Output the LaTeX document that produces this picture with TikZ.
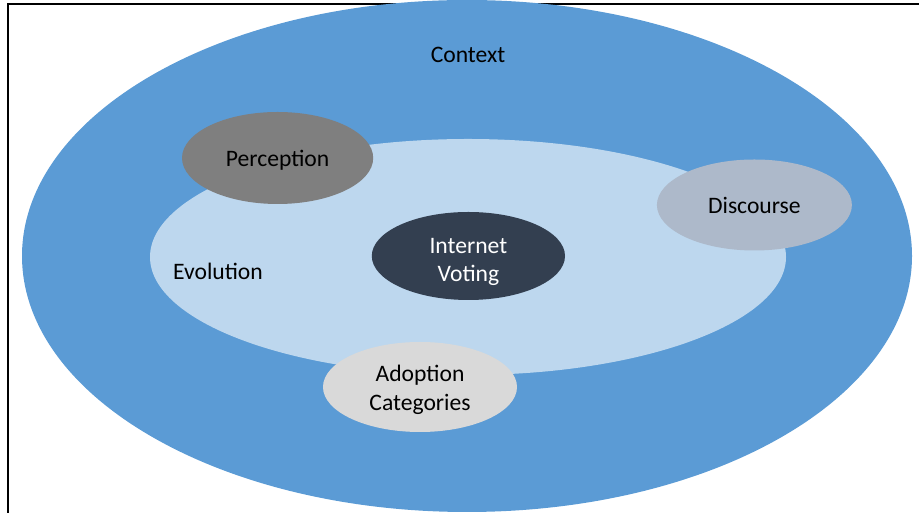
\documentclass[tikz,border=0pt]{standalone}
\usepackage{fontspec}
\setmainfont{Carlito}
\usepackage{tikz}
\usetikzlibrary{shapes.geometric}

\definecolor{ctxblue}{HTML}{5B9BD5}
\definecolor{evolblue}{HTML}{BDD7EE}
\definecolor{percgray}{HTML}{7F7F7F}
\definecolor{votedark}{HTML}{333F50}
\definecolor{discgray}{HTML}{ADB9CA}
\definecolor{adoptgray}{HTML}{D9D9D9}

\tikzset{
  blob/.style={ellipse,inner sep=0,align=center,font=\fontsize{16.8}{20}\selectfont},
  label text/.style={align=center,font=\fontsize{16.8}{20}\selectfont}
}

\begin{document}
\begin{tikzpicture}
      \useasboundingbox (0, 0) rectangle (22.975, 12.825);
      \draw[line width=1.4pt] (0.2, -0.2) -- (0.2, 12.725) -- (23.2, 12.725);

      \node[blob,fill=ctxblue,minimum width=22.25cm,minimum height=12.8cm](context) at (11.675, 6.425) {};
      \node[blob,fill=evolblue,minimum width=15.9cm,minimum height=5.9cm](evolution) at (11.7, 6.4) {};

      \node[label text](ctxlabel) at (11.7, 11.45) {Context};
      \node[label text](evollabel) at (5.45, 6.05) {Evolution};

      \node[blob,fill=percgray,minimum width=4.78cm,minimum height=2.3cm](perception) at (6.94, 8.875) {};
      \node[label text](perclabel) at (6.94, 8.82) {Perception};
      \node[blob,fill=votedark,minimum width=4.83cm,minimum height=2.2cm](voting) at (11.71, 6.425) {};
      \node[label text,text=white](votelabel) at (11.71, 6.28) {Internet\\Voting};
      \node[blob,fill=discgray,minimum width=4.875cm,minimum height=2.275cm](discourse) at (18.86, 7.7) {Discourse};
      \node[blob,fill=adoptgray,minimum width=4.85cm,minimum height=2.25cm](adoption) at (10.5, 3.15) {};
      \node[label text](adoptlabel) at (10.5, 3.08) {Adoption\\Categories};
\end{tikzpicture}
\end{document}
